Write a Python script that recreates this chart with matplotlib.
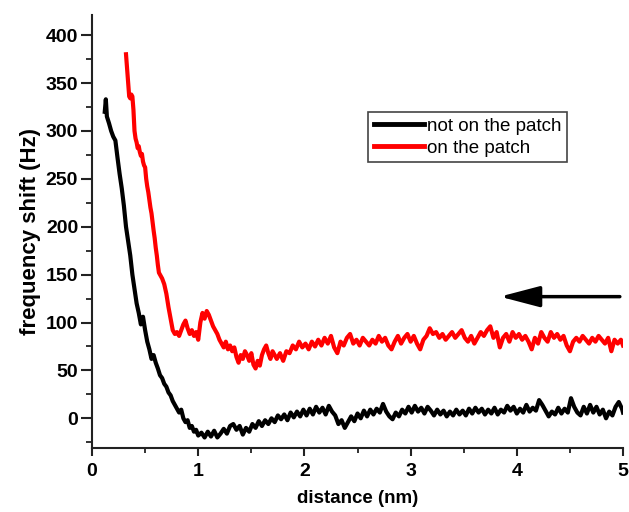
import matplotlib
matplotlib.use("Agg")
import matplotlib.pyplot as plt
from matplotlib.ticker import MultipleLocator

plt.rcParams["font.family"] = ["Liberation Sans", "DejaVu Sans"]

# black: "not on the patch"
off_x = [0.12, 0.13, 0.14, 0.16, 0.18, 0.20, 0.22, 0.24, 0.26, 0.28, 0.30, 0.32, 0.34, 0.36,
         0.38, 0.40, 0.42, 0.44, 0.46, 0.48, 0.50, 0.52, 0.54, 0.56, 0.58, 0.60, 0.62, 0.64,
         0.66, 0.68, 0.70, 0.72, 0.74, 0.76, 0.78, 0.80, 0.82, 0.84, 0.86, 0.88, 0.90, 0.92,
         0.94, 0.96, 0.98, 1.00, 1.03, 1.06, 1.09, 1.12, 1.15, 1.18, 1.21, 1.24, 1.27, 1.30,
         1.33, 1.36, 1.39, 1.42, 1.45, 1.48, 1.51, 1.54, 1.57, 1.60, 1.63, 1.66, 1.69, 1.72,
         1.75, 1.78, 1.81, 1.84, 1.87, 1.90, 1.93, 1.96, 1.99, 2.02, 2.05, 2.08, 2.11, 2.14,
         2.17, 2.20, 2.23, 2.26, 2.29, 2.32, 2.35, 2.38, 2.41, 2.44, 2.47, 2.50, 2.53, 2.56,
         2.59, 2.62, 2.65, 2.68, 2.71, 2.74, 2.77, 2.80, 2.83, 2.86, 2.89, 2.92, 2.95, 2.98,
         3.01, 3.04, 3.07, 3.10, 3.13, 3.16, 3.19, 3.22, 3.25, 3.28, 3.31, 3.34, 3.37, 3.40,
         3.43, 3.46, 3.49, 3.52, 3.55, 3.58, 3.61, 3.64, 3.67, 3.70, 3.73, 3.76, 3.79, 3.82,
         3.85, 3.88, 3.91, 3.94, 3.97, 4.00, 4.03, 4.06, 4.09, 4.12, 4.15, 4.18, 4.21, 4.24,
         4.27, 4.30, 4.33, 4.36, 4.39, 4.42, 4.45, 4.48, 4.51, 4.54, 4.57, 4.60, 4.63, 4.66,
         4.69, 4.72, 4.75, 4.78, 4.81, 4.84, 4.87, 4.90, 4.93, 4.96, 4.99, 5.00]
off_y = [320, 333, 315, 308, 300, 294, 290, 272, 255, 240, 222, 200, 185, 170,
         150, 135, 120, 110, 98, 106, 92, 80, 72, 62, 66, 58, 52, 45,
         42, 36, 33, 27, 24, 18, 14, 10, 6, 9, 0, -4, -2, -10,
         -8, -14, -12, -18, -15, -20, -14, -19, -13, -20, -16, -11, -16, -8,
         -6, -12, -8, -17, -10, -14, -6, -10, -3, -8, -2, -6, 0, -4,
         3, -1, 4, -2, 6, 1, 7, 2, 9, 3, 10, 4, 12, 6,
         11, 4, 13, 7, 3, -6, -2, -10, -4, 2, -3, 5, 0, 8,
         2, 9, 4, 10, 6, 15, 7, 2, -1, 6, 2, 9, 5, 12,
         6, 13, 7, 11, 5, 12, 8, 3, 9, 4, 8, 2, 7, 3,
         9, 4, 8, 3, 10, 5, 11, 6, 10, 4, 9, 5, 11, 4,
         9, 6, 13, 8, 12, 5, 10, 6, 14, 7, 11, 8, 19, 14,
         8, 2, 7, 4, 11, 5, 10, 6, 21, 12, 6, 3, 12, 5,
         14, 6, 12, 4, 9, 0, 7, 3, 12, 17, 10, 6]

# red: "on the patch"
on_x = [0.32, 0.33, 0.34, 0.35, 0.36, 0.37, 0.38, 0.39, 0.40, 0.41, 0.42, 0.43, 0.44, 0.45,
        0.46, 0.47, 0.48, 0.49, 0.50, 0.51, 0.52, 0.53, 0.54, 0.55, 0.56, 0.57, 0.58, 0.59,
        0.60, 0.61, 0.62, 0.63, 0.64, 0.66, 0.68, 0.70, 0.72, 0.74, 0.76, 0.78, 0.80, 0.82,
        0.84, 0.86, 0.88, 0.90, 0.92, 0.94, 0.96, 0.98, 1.00, 1.02, 1.04, 1.06, 1.08, 1.10,
        1.12, 1.14, 1.16, 1.18, 1.20, 1.22, 1.24, 1.26, 1.28, 1.30, 1.32, 1.34, 1.36, 1.38,
        1.40, 1.42, 1.44, 1.46, 1.48, 1.50, 1.52, 1.54, 1.56, 1.58, 1.60, 1.62, 1.64, 1.66,
        1.68, 1.70, 1.72, 1.74, 1.77, 1.80, 1.83, 1.86, 1.89, 1.92, 1.95, 1.98, 2.01, 2.04,
        2.07, 2.10, 2.13, 2.16, 2.19, 2.22, 2.25, 2.28, 2.31, 2.34, 2.37, 2.40, 2.43, 2.46,
        2.49, 2.52, 2.55, 2.58, 2.61, 2.64, 2.67, 2.70, 2.73, 2.76, 2.79, 2.82, 2.85, 2.88,
        2.91, 2.94, 2.97, 3.00, 3.03, 3.06, 3.09, 3.12, 3.15, 3.18, 3.21, 3.24, 3.27, 3.30,
        3.33, 3.36, 3.39, 3.42, 3.45, 3.48, 3.51, 3.54, 3.57, 3.60, 3.63, 3.66, 3.69, 3.72,
        3.75, 3.78, 3.81, 3.84, 3.87, 3.90, 3.93, 3.96, 3.99, 4.02, 4.05, 4.08, 4.11, 4.14,
        4.17, 4.20, 4.23, 4.26, 4.29, 4.32, 4.35, 4.38, 4.41, 4.44, 4.47, 4.50, 4.53, 4.56,
        4.59, 4.62, 4.65, 4.68, 4.71, 4.74, 4.77, 4.80, 4.83, 4.86, 4.89, 4.92, 4.95, 4.98,
        5.00]
on_y = [380, 365, 350, 336, 334, 338, 336, 322, 300, 292, 288, 282, 284, 278,
        274, 276, 268, 264, 262, 250, 242, 236, 228, 220, 214, 205, 196, 188,
        178, 170, 160, 152, 150, 146, 140, 130, 116, 104, 92, 88, 90, 86,
        92, 98, 102, 94, 88, 92, 86, 90, 82, 100, 110, 104, 112, 108,
        102, 96, 92, 88, 82, 78, 74, 80, 72, 76, 70, 74, 64, 58,
        66, 62, 70, 66, 60, 68, 56, 52, 60, 55, 66, 72, 76, 68,
        62, 70, 66, 62, 68, 60, 70, 68, 76, 72, 80, 74, 78, 72,
        80, 75, 82, 76, 84, 78, 86, 74, 68, 80, 76, 84, 88, 78,
        82, 76, 84, 80, 76, 82, 78, 86, 80, 84, 76, 72, 80, 86,
        78, 84, 88, 80, 86, 78, 72, 82, 86, 94, 88, 90, 84, 88,
        82, 86, 90, 84, 88, 92, 84, 80, 86, 78, 84, 90, 86, 92,
        96, 84, 90, 74, 84, 88, 80, 90, 84, 88, 82, 86, 80, 72,
        84, 78, 90, 84, 80, 90, 84, 88, 82, 86, 76, 70, 80, 84,
        80, 86, 82, 78, 84, 80, 86, 82, 78, 84, 70, 82, 78, 82,
        76]

fig = plt.figure(figsize=(6.29, 5.12), dpi=100)
ax = fig.add_axes([0.1463, 0.125, 0.8442, 0.8457])

ax.plot(off_x, off_y, color="black", lw=3.0, label="not on the patch")
ax.plot(on_x, on_y, color="#ff0000", lw=3.0, label="on the patch")

# approach direction arrow
ax.annotate("", xy=(3.84, 127), xytext=(4.97, 127),
            arrowprops=dict(arrowstyle="-|>,head_length=1.22,head_width=0.32",
                            color="black", lw=2.5, mutation_scale=20,
                            shrinkA=0, shrinkB=0))

ax.set_xlim(0, 5)
ax.set_ylim(-31, 421)
ax.xaxis.set_major_locator(MultipleLocator(1))
ax.xaxis.set_minor_locator(MultipleLocator(0.5))
ax.yaxis.set_minor_locator(MultipleLocator(25))
ax.set_yticks(range(0, 401, 50))

for side in ("top", "right"):
    ax.spines[side].set_visible(False)
for side in ("left", "bottom"):
    ax.spines[side].set_linewidth(1.5)
    ax.spines[side].set_color("#222222")

ax.tick_params(which="major", direction="out", width=1.5, color="#222222", labelsize=14)
ax.tick_params(which="minor", direction="out", width=1.3, color="#222222")
ax.tick_params(axis="x", which="major", length=6, pad=5)
ax.tick_params(axis="x", which="minor", length=3.5)
ax.tick_params(axis="y", which="major", length=8, pad=2)
ax.tick_params(axis="y", which="minor", length=4.5)
for lbl in ax.get_xticklabels() + ax.get_yticklabels():
    lbl.set_fontweight("bold")

ax.set_xlabel("distance (nm)", fontsize=13.5, fontweight="bold", labelpad=7)
ax.set_ylabel("frequency shift (Hz)", fontsize=16, fontweight="bold", labelpad=3)

leg = ax.legend(loc="upper left", bbox_to_anchor=(0.52, 0.776), fontsize=13.5,
                fancybox=False, framealpha=1, edgecolor="#444444", handlelength=2.7,
                handletextpad=0.15, borderpad=0.3, labelspacing=0.25, borderaxespad=0)
leg.get_frame().set_linewidth(1.2)
for line in leg.get_lines():
    line.set_linewidth(3.5)

fig.savefig("out.png", dpi=100)
